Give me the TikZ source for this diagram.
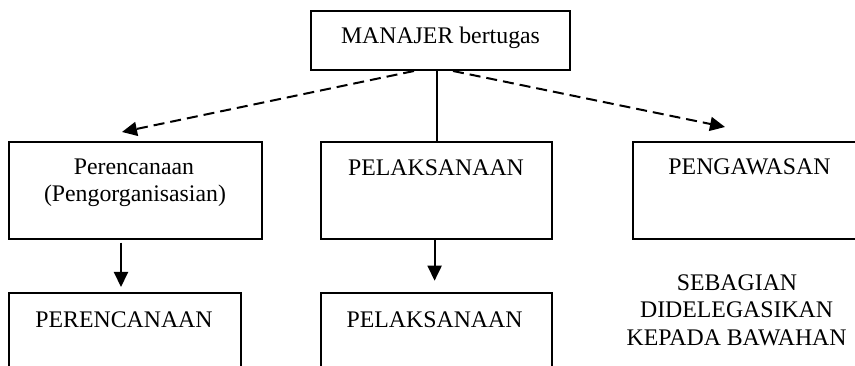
\documentclass[tikz,border=0pt]{standalone}
\usepackage{fontspec}
\setmainfont{Liberation Serif}
\usetikzlibrary{arrows.meta}
\begin{document}
\begin{tikzpicture}[x=1pt,y=-1pt,
  font=\fontsize{23.8}{27}\selectfont,
  box/.style={draw, line width=2pt, inner sep=0pt},
  txt/.style={anchor=base, inner sep=0pt},
  arr/.style={line width=2pt, -{Triangle[length=15pt,width=14pt]}},
  dasharr/.style={arr, dash pattern=on 11pt off 6pt}]
  \path[use as bounding box, clip] (0,0) rectangle (855,366);

  % boxes
  \node[box, minimum width=259pt, minimum height=59pt] (top) at (440.5,40.5) {};
  \node[box, minimum width=253pt, minimum height=97pt] (lmid) at (135.5,190.5) {};
  \node[box, minimum width=231pt, minimum height=97pt] (cmid) at (436.5,190.5) {};
  \node[box, minimum width=247pt, minimum height=97pt] (rmid) at (756.5,190.5) {};
  \node[box, minimum width=231.5pt, minimum height=107pt] (lbot) at (124.75,346.5) {};
  \node[box, minimum width=231pt, minimum height=107pt] (cbot) at (436.5,346.5) {};

  % labels
  \node[txt] (ttop) at (440.5,43.3) {MANAJER bertugas};
  \node[txt] (tl1) at (134,175) {Perencanaan};
  \node[txt] (tl2) at (135,202) {(Pengorganisasian)};
  \node[txt] (tc) at (436,175.5) {PELAKSANAAN};
  \node[txt] (tr) at (749.5,175) {PENGAWASAN};
  \node[txt] (tlb) at (124,327) {PERENCANAAN};
  \node[txt] (tcb) at (434.6,327) {PELAKSANAAN};
  \node[txt] (s1) at (737,291) {SEBAGIAN};
  \node[txt] (s2) at (736.6,318) {DIDELEGASIKAN};
  \node[txt] (s3) at (736.6,345.7) {KEPADA BAWAHAN};

  % connector ends
  \coordinate (lstart) at (414,0);
  \coordinate (rstart) at (453,0);
  \coordinate (ltip) at (122,132);
  \coordinate (rtip) at (725,127);
  \coordinate (la) at (121,242.7);
  \coordinate (lb) at (121,287);
  \coordinate (cb) at (434.6,280.7);

  % connectors
  \draw[dasharr] (top.south -| lstart) -- (ltip);
  \draw[dasharr] (top.south -| rstart) -- (rtip);
  \draw[line width=2pt] (cmid.north) -- (cmid.north |- top.south);
  \draw[arr] (la) -- (lb);
  \draw[arr] (cmid.south -| cb) -- (cb);
\end{tikzpicture}
\end{document}
